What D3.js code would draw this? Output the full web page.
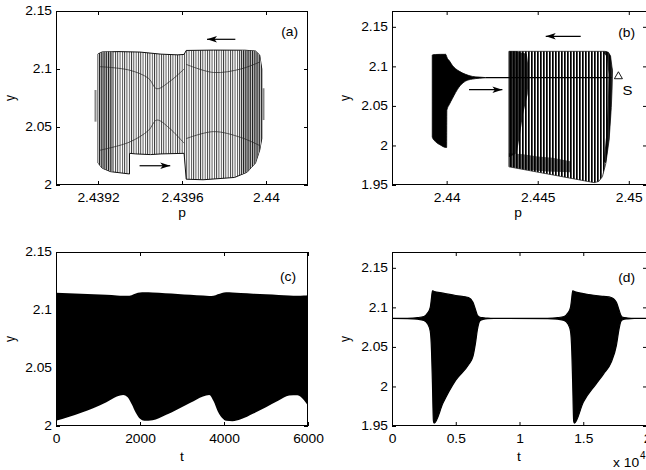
<!DOCTYPE html>
<html lang="en">
<head>
    <meta charset="UTF-8">
    <title>Bursting oscillations</title>
    <script src="https://cdn.jsdelivr.net/npm/d3@7"></script>
    <style>
        body { margin: 0; background: #fff; }
        svg { display: block; }
    </style>
</head>
<body>
    <svg id="fig" width="646" height="470"></svg>
    <script>
        // ---------- values ----------

        // tick values / labels
        const yTicksA = [2, 2.05, 2.1, 2.15]
        const yLabelsA = ['2', '2.05', '2.1', '2.15']
        const yTicksB = [1.95, 2, 2.05, 2.1, 2.15]
        const yLabelsB = ['1.95', '2', '2.05', '2.1', '2.15']
        const aXTicks = [2.4392, 2.4396, 2.44]
        const aXLabels = ['2.4392', '2.4396', '2.44']
        const bXTicks = [2.44, 2.445, 2.45]
        const bXLabels = ['2.44', '2.445', '2.45']
        const cXTicks = [0, 2000, 4000, 6000]
        const cXLabels = ['0', '2000', '4000', '6000']
        const dXTicks = [0, 5000, 10000, 15000, 20000]
        const dXLabels = ['0', '0.5', '1', '1.5', '2']

        // (a) outline of the striped band, [p, y]
        const aOutline = [
            [2.43920, 2.0190], [2.43920, 2.1130], [2.43922, 2.1147], [2.43930, 2.1150], [2.43940, 2.1146],
            [2.43950, 2.1128], [2.43958, 2.1122], [2.43961, 2.1126], [2.43962, 2.1160], [2.43975, 2.1163],
            [2.43990, 2.1162], [2.43995, 2.1155], [2.43997, 2.1120], [2.43998, 2.1000], [2.43998, 2.0400],
            [2.43997, 2.0300], [2.43995, 2.0190], [2.43991, 2.0110], [2.43985, 2.0065], [2.43970, 2.0045],
            [2.43962, 2.0050], [2.43961, 2.0273], [2.43950, 2.0268], [2.43945, 2.0262], [2.43938, 2.0268],
            [2.43935, 2.0273], [2.43935, 2.0095], [2.43926, 2.0115], [2.43922, 2.0145]
        ]
        const aDenseLeft = [
            [2.43920, 2.0190], [2.43920, 2.1130], [2.43922, 2.1147], [2.43927, 2.1149],
            [2.43927, 2.0112], [2.43922, 2.0145]
        ]
        const aDenseRight = [
            [2.43988, 2.1162], [2.43995, 2.1155], [2.43997, 2.1120], [2.43998, 2.1000], [2.43998, 2.0400],
            [2.43997, 2.0300], [2.43995, 2.0190], [2.43991, 2.0110], [2.43988, 2.0090]
        ]
        const aCurves = [
            [[2.43921, 2.102], [2.43935, 2.099], [2.43944, 2.092], [2.43948, 2.083], [2.43954, 2.089], [2.43961, 2.100]],
            [[2.43921, 2.030], [2.43935, 2.037], [2.43944, 2.047], [2.43948, 2.056], [2.43954, 2.049], [2.43961, 2.036]],
            [[2.43962, 2.104], [2.43975, 2.097], [2.43988, 2.100], [2.43997, 2.106]],
            [[2.43962, 2.040], [2.43975, 2.046], [2.43988, 2.041], [2.43997, 2.034]]
        ]
        // side bars: [p, yLow, yHigh]
        const aSideBars = [[2.439188, 2.0546, 2.0819], [2.439988, 2.0560, 2.0834]]
        // arrows: [p1, y1, p2, y2]
        const aArrows = [[2.439854, 2.1256, 2.439719, 2.1256], [2.439398, 2.0166, 2.439544, 2.0166]]

        // (b) solid blob on the left
        const bBlobP = [2.43921, 2.43922, 2.43940, 2.43967, 2.43995, 2.44000, 2.44001, 2.44015, 2.44031, 2.44068, 2.44104, 2.44141, 2.44180, 2.44214]
        const bBlobTop = [2.1139, 2.1145, 2.1150, 2.1152, 2.1152, 2.1125, 2.1118, 2.1070, 2.1013, 2.0940, 2.0899, 2.0873, 2.0864, 2.0858]
        const bBlobBot = [2.0106, 2.0100, 2.0046, 2.0004, 1.9975, 1.9975, 2.0443, 2.0520, 2.0591, 2.0738, 2.0814, 2.0839, 2.0850, 2.0856]
        // striped block on the right
        const bBlock = [
            [2.44342, 1.9730], [2.44342, 2.1190], [2.44870, 2.1190], [2.44888, 2.1178], [2.44900, 2.1130],
            [2.44910, 2.0950], [2.44908, 2.0700], [2.44904, 2.0480], [2.44892, 2.0070], [2.44874, 1.9773],
            [2.44855, 1.9605], [2.44835, 1.9545], [2.44810, 1.9530], [2.44600, 1.9620], [2.44450, 1.9684]
        ]
        const bDarkLeft = [
            [2.44342, 2.1190], [2.44380, 2.1190], [2.44440, 2.1160], [2.44452, 2.0950], [2.44445, 2.0650],
            [2.44420, 2.0400], [2.44400, 2.0100], [2.44385, 1.9900], [2.44342, 1.9850]
        ]
        const bDarkBottom = [
            [2.44342, 1.9900], [2.44420, 1.9890], [2.44500, 1.9860], [2.44580, 1.9845], [2.44680, 1.9800],
            [2.44680, 1.9660], [2.44550, 1.9670], [2.44450, 1.9690], [2.44342, 1.9735]
        ]
        const bDarkRight = [
            [2.44870, 2.1190], [2.44888, 2.1178], [2.44900, 2.1130], [2.44910, 2.0950], [2.44908, 2.0700],
            [2.44904, 2.0480], [2.44892, 2.0070], [2.44874, 1.9773], [2.44862, 1.9800], [2.44875, 2.0100],
            [2.44885, 2.0500], [2.44888, 2.0900], [2.44880, 2.1120], [2.44862, 2.1170]
        ]
        const bLine = [[2.44214, 2.0857], [2.44905, 2.0857]]
        const bPointS = [2.44943, 2.0873]
        const bArrows = [[2.44736, 2.1380, 2.44544, 2.1380], [2.44123, 2.0705, 2.44306, 2.0705]]

        // (c) envelope of y(t)
        const cT = [0, 300, 600, 900, 1200, 1450, 1600, 1700, 1800, 1900, 2000, 2100, 2300, 2600, 2900, 3200,
            3500, 3650, 3750, 3850, 3950, 4050, 4200, 4400, 4700, 5000, 5300, 5550, 5750, 5900, 6000]
        const cUpper = [2.1148, 2.1145, 2.1141, 2.1136, 2.1131, 2.1125, 2.1122, 2.1122, 2.1128, 2.1142, 2.1150, 2.1152,
            2.1150, 2.1145, 2.1139, 2.1132, 2.1124, 2.1120, 2.1122, 2.1135, 2.1147, 2.1152, 2.1151, 2.1147, 2.1141,
            2.1135, 2.1129, 2.1124, 2.1122, 2.1124, 2.1127]
        const cLower = [2.0045, 2.0078, 2.0115, 2.0155, 2.0205, 2.0255, 2.0268, 2.0250, 2.0190, 2.0115, 2.0062, 2.0045,
            2.0050, 2.0092, 2.0145, 2.0200, 2.0255, 2.0268, 2.0215, 2.0128, 2.0072, 2.0046, 2.0042, 2.0058, 2.0108,
            2.0162, 2.0220, 2.0262, 2.0265, 2.0225, 2.0175]

        // (d) envelope of y(t)
        const dT = [0, 1200, 2000, 2500, 2800, 3000, 3100, 3170, 3250, 3300, 4000, 5000, 6000, 6350, 6550, 6700, 6900, 7200, 7500, 8000,
            12200, 13000, 13500, 13800, 14000, 14100, 14170, 14250, 14300, 15000, 16000, 16600, 17200, 17600, 17800, 17950, 18100, 18500, 19000, 20000]
        const dUpper = [2.0860, 2.0862, 2.0870, 2.0885, 2.0930, 2.1000, 2.1120, 2.1210, 2.1205, 2.1200, 2.1180, 2.1150, 2.1125, 2.1065, 2.0970, 2.0900, 2.0875, 2.0868, 2.0863, 2.0860,
            2.0862, 2.0870, 2.0885, 2.0930, 2.1000, 2.1120, 2.1210, 2.1205, 2.1200, 2.1175, 2.1150, 2.1138, 2.1125, 2.1065, 2.0970, 2.0900, 2.0875, 2.0865, 2.0860, 2.0860]
        const dLower = [2.0860, 2.0858, 2.0850, 2.0835, 2.0790, 2.0700, 2.0450, 2.0050, 1.9560, 1.9535, 1.9790, 2.0080, 2.0275, 2.0380, 2.0550, 2.0720, 2.0830, 2.0850, 2.0857, 2.0860,
            2.0858, 2.0850, 2.0835, 2.0790, 2.0700, 2.0450, 2.0050, 1.9560, 1.9535, 1.9800, 2.0030, 2.0160, 2.0310, 2.0520, 2.0720, 2.0820, 2.0845, 2.0855, 2.0860, 2.0860]

        // ---------- drawing ----------
        const FONT = '"Liberation Sans", Arial, Helvetica, sans-serif'
        const STRETCH = 1.15
        const svg = d3.select('#fig')
        const defs = svg.append('defs')

        function stripes(id, period, lineW, color) {
            const pat = defs.append('pattern').attr('id', id)
                .attr('patternUnits', 'userSpaceOnUse')
                .attr('width', period).attr('height', 8)
            pat.append('rect').attr('width', period).attr('height', 8).attr('fill', '#fff')
            pat.append('rect').attr('width', lineW).attr('height', 8).attr('fill', color)
        }
        stripes('stripeA', 2.3, 0.9, '#3a3a3a')
        stripes('stripeDense', 1.8, 1.1, '#1a1a1a')
        stripes('stripeB', 3, 1.7, '#000')

        defs.append('marker').attr('id', 'head')
            .attr('viewBox', '-11 -4 12 8').attr('refX', 0).attr('refY', 0)
            .attr('markerWidth', 12).attr('markerHeight', 8)
            .attr('markerUnits', 'userSpaceOnUse').attr('orient', 'auto')
            .append('path').attr('d', 'M0,0L-10,-3.2L-7.5,0L-10,3.2Z').attr('fill', '#000')

        function panel(id, left, top, width, height, xDomain, yDomain) {
            const x = d3.scaleLinear().domain(xDomain).range([left, left + width])
            const y = d3.scaleLinear().domain(yDomain).range([top + height, top])
            defs.append('clipPath').attr('id', 'clip-' + id).append('rect')
                .attr('x', left).attr('y', top).attr('width', width).attr('height', height)
            const plot = svg.append('g').attr('clip-path', `url(#clip-${id})`)
            return { x, y, plot, left, top, width, height }
        }

        function styleAxis(sel) {
            sel.select('.domain').remove()
            sel.attr('font-family', FONT).attr('font-size', 12)
            sel.selectAll('line').attr('stroke', '#000')
            sel.selectAll('text').attr('fill', '#000').attr('transform', `scale(${STRETCH},1)`)
        }

        function frame(P, xTicks, xLabels, yTicks, yLabels) {
            const bottom = P.top + P.height, right = P.left + P.width
            const g = svg.append('g')
            g.append('g').attr('transform', `translate(0,${bottom})`)
                .call(d3.axisBottom(P.x).tickValues(xTicks).tickFormat((d, i) => xLabels[i])
                    .tickSizeInner(-4).tickSizeOuter(0).tickPadding(8.5))
                .call(styleAxis)
            g.append('g').attr('transform', `translate(0,${P.top})`)
                .call(d3.axisTop(P.x).tickValues(xTicks).tickFormat('').tickSizeInner(-4).tickSizeOuter(0))
                .call(styleAxis)
            g.append('g').attr('transform', `translate(${P.left},0)`)
                .call(d3.axisLeft(P.y).tickValues(yTicks).tickFormat((d, i) => yLabels[i])
                    .tickSizeInner(-4).tickSizeOuter(0).tickPadding(3.5))
                .call(styleAxis)
            g.append('g').attr('transform', `translate(${right},0)`)
                .call(d3.axisRight(P.y).tickValues(yTicks).tickFormat('').tickSizeInner(-4).tickSizeOuter(0))
                .call(styleAxis)
            g.append('rect')
                .attr('x', P.left + 0.5).attr('y', P.top + 0.5)
                .attr('width', P.width - 1).attr('height', P.height - 1)
                .attr('fill', 'none').attr('stroke', '#000').attr('stroke-width', 1)
        }

        function label(x0, y0, str, opts = {}) {
            const g = svg.append('g')
                .attr('transform', `translate(${x0},${y0})` + (opts.rotate ? ' rotate(-90)' : ''))
            g.append('text')
                .attr('transform', opts.rotate ? `scale(1,${STRETCH})` : `scale(${STRETCH},1)`)
                .attr('text-anchor', opts.anchor || 'middle')
                .attr('font-family', FONT).attr('font-size', opts.size || 12)
                .attr('fill', '#000')
                .text(str)
        }

        const polyline = P => d3.line().x(d => P.x(d[0])).y(d => P.y(d[1]))

        function arrows(P, list) {
            P.plot.selectAll(null).data(list).join('line')
                .attr('x1', d => P.x(d[0])).attr('y1', d => P.y(d[1]))
                .attr('x2', d => P.x(d[2])).attr('y2', d => P.y(d[3]))
                .attr('stroke', '#000').attr('stroke-width', 1.2)
                .attr('marker-end', 'url(#head)')
        }

        // ----- (a) -----
        const A = panel('a', 56, 11, 252, 174, [2.439, 2.4402], [2, 2.15])
        A.plot.append('path').datum(aOutline)
            .attr('d', polyline(A).curve(d3.curveLinearClosed))
            .attr('fill', 'url(#stripeA)').attr('stroke', '#111').attr('stroke-width', 1)
        ;[aDenseLeft, aDenseRight].forEach(poly => {
            A.plot.append('path').datum(poly)
                .attr('d', polyline(A).curve(d3.curveLinearClosed))
                .attr('fill', 'url(#stripeDense)').attr('stroke', 'none')
        })
        A.plot.selectAll('.curve').data(aCurves).join('path')
            .attr('d', polyline(A).curve(d3.curveCatmullRom))
            .attr('fill', 'none').attr('stroke', '#222').attr('stroke-width', 0.7)
        A.plot.selectAll('.side').data(aSideBars).join('line')
            .attr('x1', d => A.x(d[0])).attr('x2', d => A.x(d[0]))
            .attr('y1', d => A.y(d[1])).attr('y2', d => A.y(d[2]))
            .attr('stroke', '#888').attr('stroke-width', 2)
        arrows(A, aArrows)
        frame(A, aXTicks, aXLabels, yTicksA, yLabelsA)

        // ----- (b) -----
        const B = panel('b', 392, 11, 255, 174, [2.437, 2.451], [1.95, 2.17])
        const blob = bBlobP.map((p, i) => ({ p, top: bBlobTop[i], bot: bBlobBot[i] }))
        B.plot.append('path').datum(blob)
            .attr('d', d3.area().x(d => B.x(d.p)).y0(d => B.y(d.bot)).y1(d => B.y(d.top)).curve(d3.curveMonotoneX))
            .attr('fill', '#000').attr('stroke', '#000').attr('stroke-width', 0.8)
        B.plot.append('path').datum(bBlock)
            .attr('d', polyline(B).curve(d3.curveLinearClosed))
            .attr('fill', 'url(#stripeB)').attr('stroke', '#222').attr('stroke-width', 0.8)
        B.plot.append('path').datum(bDarkLeft)
            .attr('d', polyline(B).curve(d3.curveLinearClosed))
            .attr('fill', '#000').attr('opacity', 0.8)
        B.plot.append('path').datum(bDarkBottom)
            .attr('d', polyline(B).curve(d3.curveLinearClosed))
            .attr('fill', '#000').attr('opacity', 0.6)
        B.plot.append('path').datum(bDarkRight)
            .attr('d', polyline(B).curve(d3.curveLinearClosed))
            .attr('fill', '#000').attr('opacity', 0.85)
        B.plot.append('path').datum(bLine)
            .attr('d', polyline(B)).attr('stroke', '#000').attr('stroke-width', 1.2).attr('fill', 'none')
        B.plot.append('path')
            .attr('transform', `translate(${B.x(bPointS[0])},${B.y(bPointS[1])})`)
            .attr('d', d3.symbol(d3.symbolTriangle, 28)())
            .attr('fill', '#fff').attr('stroke', '#000').attr('stroke-width', 0.9)
        arrows(B, bArrows)
        frame(B, bXTicks, bXLabels, yTicksB, yLabelsB)
        label(B.x(bPointS[0]) + 4, B.y(bPointS[1]) + 19, 'S', { anchor: 'start', size: 13 })

        // ----- (c) -----
        const C = panel('c', 56, 252, 252, 174, [0, 6000], [2, 2.15])
        const cData = cT.map((t, i) => ({ t, hi: cUpper[i], lo: cLower[i] }))
        C.plot.append('path').datum(cData)
            .attr('d', d3.area().x(d => C.x(d.t)).y0(d => C.y(d.lo)).y1(d => C.y(d.hi)).curve(d3.curveMonotoneX))
            .attr('fill', '#000')
        frame(C, cXTicks, cXLabels, yTicksA, yLabelsA)

        // ----- (d) -----
        const D = panel('d', 392, 252, 255, 174, [0, 20000], [1.95, 2.17])
        const dData = dT.map((t, i) => ({ t, hi: dUpper[i], lo: dLower[i] }))
        D.plot.append('path').datum(dData)
            .attr('d', d3.area().x(d => D.x(d.t)).y0(d => D.y(d.lo)).y1(d => D.y(d.hi)).curve(d3.curveMonotoneX))
            .attr('fill', '#000').attr('stroke', '#000').attr('stroke-width', 1.2)
        frame(D, dXTicks, dXLabels, yTicksB, yLabelsB)

        // ----- titles -----
        label(298, 36, '(a)', { anchor: 'end' })
        label(635, 37, '(b)', { anchor: 'end' })
        label(296, 281, '(c)', { anchor: 'end' })
        label(635, 282, '(d)', { anchor: 'end' })
        label(182, 217, 'p')
        label(518, 217, 'p')
        label(182, 461, 't')
        label(519, 461, 't')
        label(15, 98, 'y', { rotate: true })
        label(350, 98, 'y', { rotate: true })
        label(15, 339, 'y', { rotate: true })
        label(350, 339, 'y', { rotate: true })
        label(613, 467, 'x 10', { anchor: 'start' })
        svg.append('text').attr('x', 640).attr('y', 459)
            .attr('font-family', FONT).attr('font-size', 10).attr('fill', '#000').text('4')
    </script>
</body>
</html>
